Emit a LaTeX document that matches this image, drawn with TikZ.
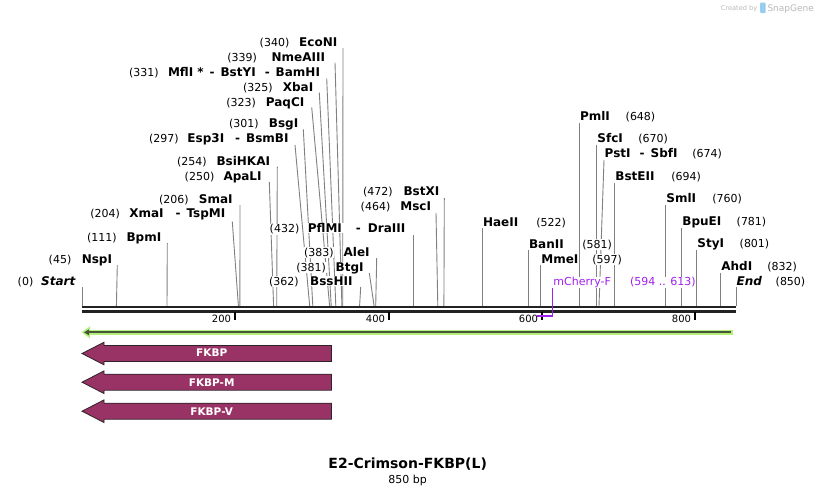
\documentclass[tikz,border=0pt]{standalone}
\usepackage{fontspec}
\setmainfont{DejaVu Sans}
\pgfdeclarelayer{bg}
\pgfdeclarelayer{paper}
\pgfsetlayers{paper,bg,main}
\definecolor{sitegray}{RGB}{128,128,128}
\definecolor{featfill}{RGB}{153,51,102}
\definecolor{featdraw}{RGB}{45,35,40}
\definecolor{lightgreen}{RGB}{180,240,120}
\definecolor{darkgreen}{RGB}{70,85,60}
\definecolor{primerpurple}{RGB}{160,32,240}
\definecolor{backbone}{RGB}{34,34,34}
\definecolor{logogray}{RGB}{185,185,185}
\definecolor{logoblue}{RGB}{150,205,240}
\tikzset{
  numlab/.style={font=\fontsize{11}{13}\selectfont, text=black, fill=white, inner sep=0.5pt},
  namelab/.style={font=\fontsize{12}{14}\selectfont\bfseries, text=black, fill=white, inner sep=0.5pt},
  siteln/.style={draw=sitegray, line width=0.9pt},
  featarrow/.style={fill=featfill, draw=featdraw, line width=0.8pt},
  featlab/.style={font=\fontsize{10.5}{12}\selectfont\bfseries, text=white, inner sep=0pt},
  ticklab/.style={font=\fontsize{10}{12}\selectfont, text=black, inner sep=0pt},
  tickmark/.style={draw=black, line width=2pt},
}
% left-labelled site: id, name, number, name right x, number right x, baseline, line top x, line top y, line bottom x
\newcommand\LSite[9]{%
  \node[numlab,anchor=base east] (#1n) at (#5,#6) {#3};
  \node[namelab,anchor=base east] (#1) at (#4,#6) {#2};
  \coordinate (#1t) at (#7,#8);
  \coordinate (#1b) at (#9,306);
  \begin{pgfonlayer}{bg}\draw[siteln] (#1t) -- (#1b);\end{pgfonlayer}}
% right-labelled site: id, name, number, name left x, number left x, baseline, line top x, line top y, line bottom x
\newcommand\RSite[9]{%
  \node[namelab,anchor=base west] (#1) at (#4,#6) {#2};
  \node[numlab,anchor=base west] (#1n) at (#5,#6) {#3};
  \coordinate (#1t) at (#7,#8);
  \coordinate (#1b) at (#9,306);
  \begin{pgfonlayer}{bg}\draw[siteln] (#1t) -- (#1b);\end{pgfonlayer}}
% feature arrow pointing left: id, label, centre y, label baseline
\newcommand\FeatArrow[4]{%
  \draw[featarrow] (82,#3) -- (104,#3-11.3) -- (104,#3-8) -- (331.5,#3-8) -- (331.5,#3+8)
     -- (104,#3+8) -- (104,#3+11.3) -- cycle;
  \node[featlab,anchor=base] (#1) at (211.7,#4) {#2};}
\begin{document}
\begin{tikzpicture}[x=1pt,y=-1pt]
\useasboundingbox (0,0) rectangle (818,496);
\begin{pgfonlayer}{paper}
\fill[white] (0,0) rectangle (818,496);
\end{pgfonlayer}

% watermark
\node[font=\fontsize{6.6}{8}\selectfont, text=logogray, anchor=base west, inner sep=0pt] (created) at (720.7,10) {Created by};
\fill[logoblue, rounded corners=1pt] (760,2.5) rectangle (765.5,13);
\node[font=\fontsize{9}{11}\selectfont, text=logogray, anchor=base west, inner sep=0pt] (snapgene) at (767.3,11) {SnapGene};

% backbone
\coordinate (bbL1) at (81.7,307.2);
\coordinate (bbR1) at (735.7,307.2);
\coordinate (bbL2) at (81.7,311.4);
\coordinate (bbR2) at (735.7,311.4);
\draw[backbone, line width=2.4pt] (bbL1) -- (bbR1);
\draw[backbone, line width=2.6pt] (bbL2) -- (bbR2);

% ticks
\foreach \tx/\tl in {235/200, 389/400, 542/600, 695/800}{
  \coordinate (tk\tl a) at (\tx,312);
  \coordinate (tk\tl b) at (\tx,320);
  \draw[tickmark] (tk\tl a) -- (tk\tl b);
  \node[ticklab, anchor=base east] (tl\tl) at (\tx-3.8,322.7) {\tl};
}

% left-labelled sites
\LSite{econi}{EcoNI}{(340)}{338}{290}{46}{343}{48}{342.7}
\LSite{nmeaiii}{NmeAIII}{(339)}{325.7}{257.7}{61}{335}{62.7}{341.9}
\LSite{mfli}{MflI\hspace{4pt}*\hspace{6pt}-\hspace{6pt}BstYI\hspace{9pt}-\hspace{6pt}BamHI}{(331)}{320.7}{159.3}{76}{326.7}{78.3}{335.8}
\LSite{xbai}{XbaI}{(325)}{314}{273.3}{91}{319.3}{92.7}{331.2}
\LSite{paqci}{PaqCI}{(323)}{305}{256.7}{106}{311.7}{107.3}{329.6}
\LSite{bsgi}{BsgI}{(301)}{299}{259.3}{127.3}{303.3}{129.3}{312.8}
\LSite{esp3i}{Esp3I\hspace{11pt}-\hspace{6pt}BsmBI}{(297)}{289.3}{179.3}{142.3}{295}{145}{309.7}
\LSite{bsihkai}{BsiHKAI}{(254)}{270.7}{207.3}{165}{277.3}{166.7}{276.7}
\LSite{apali}{ApaLI}{(250)}{262.3}{215}{180}{269.3}{182}{273.6}
\LSite{smai}{SmaI}{(206)}{233.3}{189.3}{203.3}{240}{205}{239.9}
\LSite{xmai}{XmaI\hspace{12pt}-\hspace{6pt}TspMI}{(204)}{226}{120.7}{217.7}{232.3}{221.7}{238.4}
\LSite{bpmi}{BpmI}{(111)}{162}{117.3}{241}{167.3}{243}{167}
\LSite{nspi}{NspI}{(45)}{112.7}{72}{263.3}{117.3}{265}{116.4}
\LSite{start}{\itshape Start}{(0)}{76}{34}{285.7}{82}{287}{82}
\LSite{pflmi}{PflMI\hspace{14pt}-\hspace{7pt}DraIII}{(432)}{406}{300}{232.7}{413.3}{235}{413.3}
\LSite{alei}{AleI}{(383)}{370.3}{334.3}{256}{376.7}{258}{375.7}
\LSite{btgi}{BtgI}{(381)}{364.3}{326.7}{271}{369.3}{273}{374.1}
\LSite{bsshii}{BssHII}{(362)}{353.3}{299.3}{285}{360.7}{287}{359.6}
\LSite{bstxi}{BstXI}{(472)}{440}{393.3}{195.7}{444.3}{198}{443.9}
\LSite{msci}{MscI}{(464)}{431.7}{391}{210.7}{436}{213}{437.8}

% right-labelled sites
\RSite{haeii}{HaeII}{(522)}{482.3}{535.7}{226}{482.3}{228}{482.3}
\RSite{banii}{BanII}{(581)}{528.3}{581.7}{248.3}{528.5}{250}{528.5}
\RSite{mmei}{MmeI}{(597)}{540.7}{591.7}{263.3}{540.7}{265}{540.7}
\RSite{pmli}{PmlI}{(648)}{579.3}{625}{120.7}{579.3}{123}{579.3}
\RSite{sfci}{SfcI}{(670)}{596.7}{637.7}{142.7}{596.7}{145}{596.7}
\RSite{psti}{PstI\hspace{9pt}-\hspace{6pt}SbfI}{(674)}{604}{691.7}{157.3}{604}{160}{599}
\RSite{bsteii}{BstEII}{(694)}{614.7}{670.7}{180.7}{614.7}{183}{614.7}
\RSite{smli}{SmlI}{(760)}{665.7}{711.7}{202.7}{665.7}{205}{665.7}
\RSite{bpuei}{BpuEI}{(781)}{681.7}{736}{225.7}{681.7}{228}{681.7}
\RSite{styi}{StyI}{(801)}{696.7}{739}{247.7}{696.7}{250}{696.7}
\RSite{ahdi}{AhdI}{(832)}{720.7}{766.7}{270.7}{720.7}{273}{720.7}
\RSite{endsite}{\itshape End}{(850)}{736}{775}{285.7}{736}{287}{736}

% primer mCherry-F
\node[font=\fontsize{11}{13}\selectfont, text=primerpurple, fill=white, inner sep=0.5pt, anchor=base west] (mcherry) at (552.7,285.7) {mCherry-F};
\node[font=\fontsize{11}{13}\selectfont, text=primerpurple, fill=white, inner sep=0.5pt, anchor=base west] (mcherryn) at (629.3,285.7) {(594 .. 613)};
\coordinate (prTop) at (552.7,287.5);
\coordinate (prCorner) at (552.7,316);
\coordinate (prEnd) at (537.3,316);
\draw[primerpurple, line width=1.4pt] (prTop) -- (prCorner) -- (prEnd);

% green line with left arrowhead
\coordinate (grL) at (88,332.3);
\coordinate (grR) at (732.7,332.3);
\draw[lightgreen, line width=5pt] (grL) -- (grR);
\fill[lightgreen] (81.5,332.3) -- (90,326.3) -- (90,338.3) -- cycle;
\coordinate (dgL) at (87,332.3);
\coordinate (dgR) at (730.7,332.3);
\draw[darkgreen, line width=1.7pt] (dgL) -- (dgR);
\fill[darkgreen] (84,332.3) -- (89,329.3) -- (89,335.3) -- cycle;

% features
\FeatArrow{fkbp}{FKBP}{353.5}{356.7}
\FeatArrow{fkbpm}{FKBP-M}{382.2}{386}
\FeatArrow{fkbpv}{FKBP-V}{411.2}{415}

% title
\node[font=\fontsize{14}{16}\selectfont\bfseries, anchor=base, inner sep=0pt] (title) at (407.7,468.3) {E2-Crimson-FKBP(L)};
\node[font=\fontsize{11}{13}\selectfont, anchor=base, inner sep=0pt] (length) at (407.7,483) {850 bp};
\end{tikzpicture}
\end{document}
